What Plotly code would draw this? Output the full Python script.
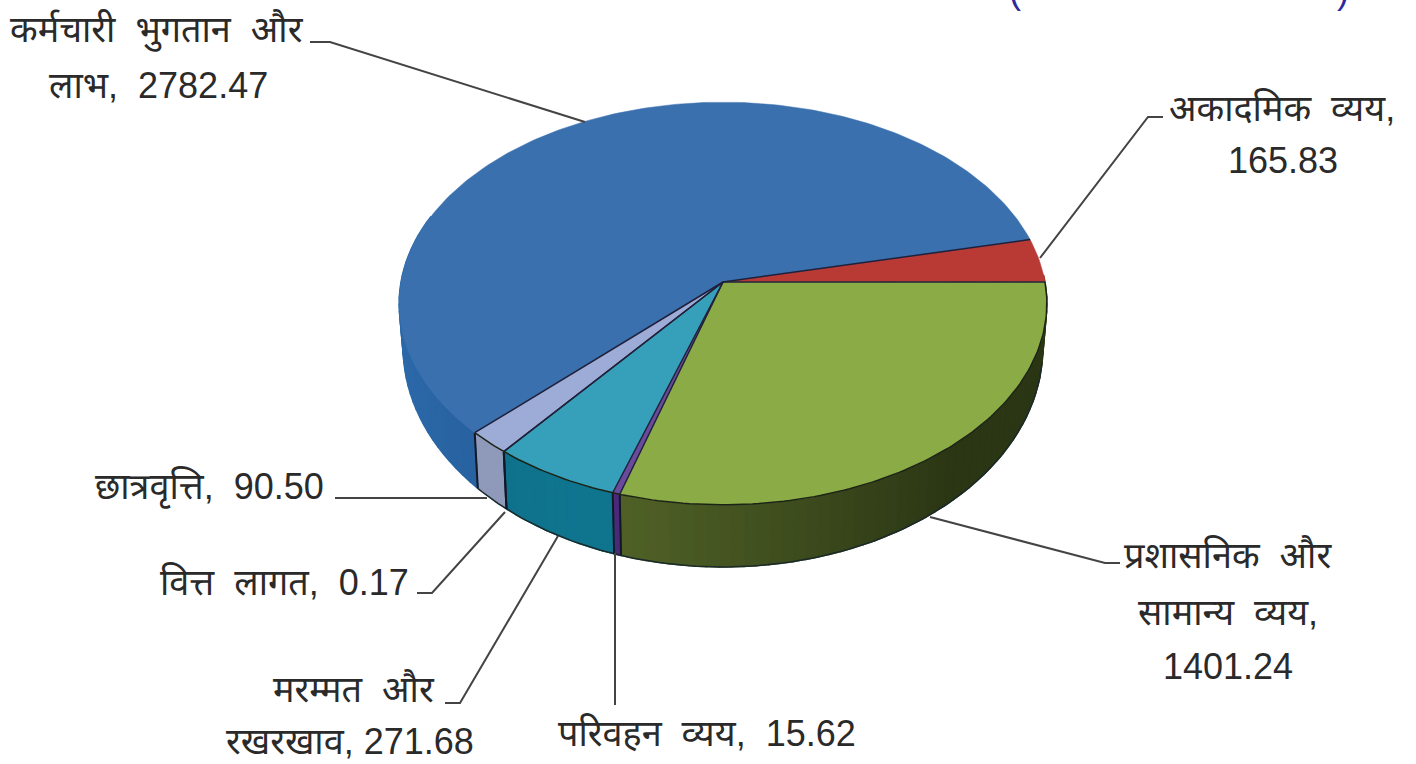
import math
import plotly.graph_objects as go

# --- data (clockwise, starting with the red slice)
categories = ["अकादमिक व्यय", "प्रशासनिक और सामान्य व्यय", "परिवहन व्यय", "मरम्मत और रखरखाव",
              "वित्त लागत", "छात्रवृत्ति", "कर्मचारी भुगतान और लाभ"]
values = [165.83, 1401.24, 15.62, 271.68, 0.17, 90.50, 2782.47]
top_colors = ["#b93a35", "#8aab45", "#6a4a9c", "#36a0ba", "#3a3a5a", "#9dacd6", "#3a70ae"]
side_near = ["#7a2420", "#4f6026", "#4a2a78", "#0f7690", "#3a3a5a", "#8f99ba", "#235a96"]
side_far = ["#7a2420", "#2b3614", "#4a2a78", "#0f6d88", "#3a3a5a", "#8f99ba", "#2c68a8"]
start_deg = 77.4

NB = "\u00a0"
label_text = [f"कर्मचारी{NB}{NB}भुगतान{NB}{NB}और", f"लाभ,{NB}{NB}2782.47", f"अकादमिक{NB}{NB}व्यय,", "165.83",
              f"प्रशासनिक{NB}{NB}और", f"सामान्य{NB}{NB}व्यय,", "1401.24", f"परिवहन{NB}{NB}व्यय,{NB}{NB}15.62",
              f"मरम्मत{NB}{NB}और", f"रखरखाव,{NB}271.68", f"वित्त{NB}{NB}लागत,{NB}{NB}0.17", f"छात्रवृत्ति,{NB}{NB}90.50"]
label_x = [157, 158, 1282, 1283, 1228, 1228, 1228, 707, 354, 350, 284, 209]
label_y = [30, 85, 108, 160, 555, 612, 666, 733, 689, 741, 582, 487]

paren_text = ["(", ")"]
paren_x = [1015, 1343]

leaders = [
    ([310, 330, 585], [42, 42, 122]),
    ([1163, 1148, 1040], [117, 117, 258]),
    ([1120, 1105, 930], [563, 563, 517]),
    ([615, 615], [553, 705]),
    ([558, 460, 445], [536, 703, 703]),
    ([505, 432, 417], [512, 593, 593]),
    ([335, 487], [498, 498]),
]

# --- projection of the tilted disc
CX, CY = 723, 282
P = 0.1067


def top(deg):
    t = math.radians(deg)
    u, v = math.sin(t), math.cos(t)
    d = 1 + P * v
    return CX + 322 * u / d, CY - 199 * v / d


def bottom(deg):
    t = math.radians(deg)
    u, v = math.sin(t), math.cos(t)
    d = 1 + P * v
    return CX + 318 * u / d, 324 - 217 * v / d


def mix(a, b, f):
    ca = [int(a[i:i + 2], 16) for i in (1, 3, 5)]
    cb = [int(b[i:i + 2], 16) for i in (1, 3, 5)]
    return "rgb(%d,%d,%d)" % tuple(round(x + (y - x) * f) for x, y in zip(ca, cb))


def steps(a, b, n_per_deg=1.0):
    n = max(2, int(abs(b - a) * n_per_deg) + 1)
    return [a + (b - a) * i / (n - 1) for i in range(n)]


total = sum(values)
spans = []
a = start_deg
for val in values:
    b = a + val / total * 360
    spans.append((a, b))
    a = b

fig = go.Figure()

# side wall (front part of the disc only)
for (a, b), near, far in zip(spans, side_near, side_far):
    lo, hi = max(a, 88), min(b, 290)
    if hi <= lo:
        continue
    edges = steps(lo, hi, 0.5)
    for s, e in zip(edges[:-1], edges[1:]):
        mid = (s + e) / 2
        f = abs(mid - 195) / 55
        col = mix(near, far, min(f, 1))
        ang = steps(s, e)
        tp = [top(x) for x in ang]
        bt = [bottom(x) for x in reversed(ang)]
        pts = tp + bt + tp[:1]
        fig.add_trace(go.Scatter(x=[p[0] for p in pts], y=[p[1] for p in pts], mode="lines",
                                 fill="toself", fillcolor=col, line=dict(color=col, width=1.5),
                                 hoverinfo="skip", showlegend=False))

# outline of the lower rim and vertical edges on the wall
rim = [bottom(x) for x in steps(100, spans[-2][1])]
fig.add_trace(go.Scatter(x=[p[0] for p in rim], y=[p[1] for p in rim], mode="lines",
                         line=dict(color="#1a2a2a", width=1.5), hoverinfo="skip", showlegend=False))
for (a, b) in spans[1:-1]:
    if 90 < b < 270:
        t, u = top(b), bottom(b)
        fig.add_trace(go.Scatter(x=[t[0], u[0]], y=[t[1], u[1]], mode="lines",
                                 line=dict(color="#101828", width=2), hoverinfo="skip", showlegend=False))

# top face
for cat, (a, b), col in zip(categories, spans, top_colors):
    pts = [(CX, CY)] + [top(x) for x in steps(a, b)] + [(CX, CY)]
    fig.add_trace(go.Scatter(x=[p[0] for p in pts], y=[p[1] for p in pts], mode="lines", name=cat,
                             fill="toself", fillcolor=col, line=dict(color=col, width=0.5),
                             hoverinfo="name", showlegend=False))

# slice borders and front rim of the top face
for (a, b) in spans:
    t = top(a)
    fig.add_trace(go.Scatter(x=[CX, t[0]], y=[CY, t[1]], mode="lines",
                             line=dict(color="#20203a", width=1.5), hoverinfo="skip", showlegend=False))
front = [top(x) for x in steps(90, spans[-2][1])]
fig.add_trace(go.Scatter(x=[p[0] for p in front], y=[p[1] for p in front], mode="lines",
                         line=dict(color="#1c2418", width=1.5), hoverinfo="skip", showlegend=False))

# leader lines
for lx, ly in leaders:
    fig.add_trace(go.Scatter(x=lx, y=ly, mode="lines", line=dict(color="#444444", width=2),
                             hoverinfo="skip", showlegend=False))

FONT = "Liberation Sans, Noto Sans, sans-serif"
annotations = [dict(x=x, y=y, xref="x", yref="y", text=t, showarrow=False, xanchor="center",
                    yanchor="middle", font=dict(size=36, color="#2a2a2a", family=FONT))
               for t, x, y in zip(label_text, label_x, label_y)]
annotations += [dict(x=x, y=1, xref="x", yref="paper", yshift=10, text=t, showarrow=False,
                     xanchor="center", yanchor="middle",
                     font=dict(size=36, color="#2a2a9a", family=FONT))
                for t, x in zip(paren_text, paren_x)]

fig.update_layout(
    width=1416, height=764, margin=dict(l=0, r=0, t=0, b=0),
    paper_bgcolor="white", plot_bgcolor="white", showlegend=False,
    xaxis=dict(range=[0, 1416], visible=False, fixedrange=True),
    yaxis=dict(range=[764, 0], visible=False, fixedrange=True),
    annotations=annotations,
)
fig.write_html("out.html", config={"displayModeBar": False},
               post_script="document.body.style.margin='0';document.body.style.overflow='hidden';")
